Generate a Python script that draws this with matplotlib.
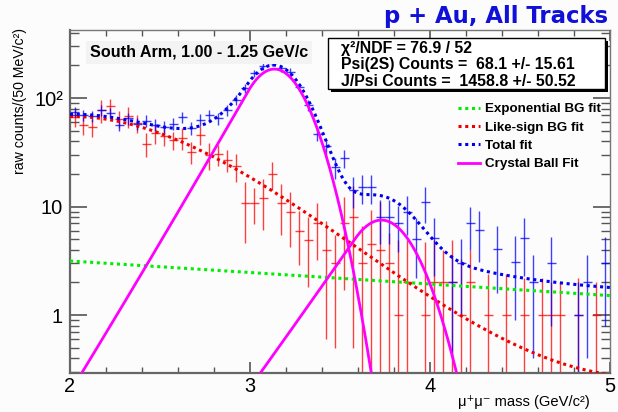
import numpy as np
import matplotlib
matplotlib.use('Agg')
import matplotlib.pyplot as plt
from matplotlib.patches import Rectangle
from matplotlib.lines import Line2D
from matplotlib.ticker import MultipleLocator, LogLocator, FixedLocator, FixedFormatter, NullFormatter

plt.rcParams['font.family'] = ['Liberation Sans', 'DejaVu Sans']

nan = np.nan

# 50 MeV bins between 2 and 5 GeV/c^2
mass_lo, mass_hi, bin_w = 2.0, 5.0, 0.05

# unlike-sign pairs (blue)
unlike_counts = [75, 70, 68, 78, 73, 57, 65, 58, 62, 57,
                 54, 58, 67, 53, 63, 70, 65, 77, 96, 124,
                 169, 197, 211, 188, 175, 127, 86, 47, 36, 23,
                 28, 14.2, 15.1, 15.1, 8.0, 8.0, 7.0, 9.0, 5.0, 11.0,
                 5.1, nan, 2.0, 3.0, 7.0, 6.1, nan, 4.1, nan, 3.1,
                 5.1, 2.0, nan, 3.0, nan, nan, 1.0, 2.0, nan, 3.0]
unlike_err = [8, 8, 8, 9, 8, 7, 8, 7, 8, 7,
              7, 7, 8, 7, 8, 8, 8, 9, 10, 12,
              14, 15, 15, 14, 14, 12, 10, 7, 6, 5,
              5.5, 4.5, 4.5, 4.5, 3.5, 3.5, 3.2, 3.5, 2.8, 4.0,
              2.8, nan, 1.6, 2.0, 3.0, 3.0, nan, 2.5, nan, 2.2,
              2.8, 1.6, nan, 2.2, nan, nan, 1.0, 1.6, nan, 2.2]

# like-sign pairs (red)
like_counts = [67, 56, 54, 77, 84, 64, 68, 59, 38, 48,
               44.5, 41, 43, 32, 46, 30, 30.5, 27, 23.5, 10.8,
               10.8, 12, 20, 10.8, 8.9, 6.0, 4.9, 7.0, 4.0, 3.0,
               7.0, 8.0, 3.0, 4.5, 4.0, 3.0, 1.0, 2.0, nan, 1.0,
               2.0, 2.0, 2.0, 1.0, 2.0, nan, 1.0, nan, 1.0, nan,
               1.0, nan, 1.0, 1.0, 1.0, nan, 1.0, nan, 1.0, nan]
like_err = [12.5, 10.5, 10.5, 18, 14, 11.5, 15, 11.5, 9.3, 10,
            8.7, 7.7, 9.7, 7.3, 9, 8.2, 6.7, 6, 6.7, 6.2,
            3.9, 5.9, 5.8, 5.3, 4.7, 3.1, 3.1, 3.8, 3.4, 2.5,
            5.3, 7.5, 3.6, 4.8, 7.0, 2.7, 3.9, 2.9, nan, 3.7,
            2.9, 2.0, 2.9, 2.3, 2.0, nan, 1.4, nan, 1.4, nan,
            1.2, nan, 1.2, 1.0, 1.0, nan, 1.2, nan, 1.0, nan]

# fit results
expo_norm, expo_slope = 3.15, -0.245          # exp BG, norm at 2 GeV
likesign_poly = [0.1536, -0.7308, 0.0172, 1.83]  # log10(BG) vs (m - 2)
jpsi_cb = (185.0, 3.135, 0.150, 1.0, 100.0)    # norm, mean, sigma, alpha, n
psi2s_cb = (7.5, 3.73, 0.164, 0.9, 100.0)

stats_lines = ['χ²/NDF = 76.9 / 52',
               'Psi(2S) Counts =  68.1 +/- 15.61',
               'J/Psi Counts =  1458.8 +/- 50.52']
legend_labels = ['Exponential BG fit', 'Like-sign BG fit', 'Total fit', 'Crystal Ball Fit']


def crystal_ball(x, norm, mu, sig, alpha, n):
    t = (x - mu) / sig
    core = np.exp(-0.5 * t**2)
    tail = np.exp(-0.5 * alpha**2) * ((n / alpha) / (n / alpha - alpha - np.minimum(t, -alpha)))**n
    return norm * np.where(t > -alpha, core, tail)


centers = np.arange(mass_lo + bin_w / 2, mass_hi, bin_w)
m = np.linspace(mass_lo, mass_hi, 700)
f_expo = expo_norm * np.exp(expo_slope * (m - mass_lo))
f_like = 10**np.polyval(likesign_poly, m - mass_lo)
f_jpsi = crystal_ball(m, *jpsi_cb)
f_psi2s = crystal_ball(m, *psi2s_cb)
f_total = f_expo + f_like + f_jpsi + f_psi2s

fig = plt.figure(figsize=(6.18, 4.12), dpi=100, facecolor='#fcfcfc')
ax = fig.add_axes([70/618, 1 - 372.7/412, 540/618, 342.7/412])
ax.set_facecolor('#fcfcfc')
ax.set_yscale('log')


def draw_points(vals, errs, col):
    vals = np.array(vals)
    errs = np.array(errs)
    ok = ~np.isnan(vals)
    v, e = vals[ok], errs[ok]
    lo = np.minimum(e, v - 1e-3)
    ax.errorbar(centers[ok], v, yerr=[lo, e], xerr=bin_w / 2, fmt='none',
                ecolor=col, elinewidth=1.0, capsize=0, alpha=0.75, zorder=2)


draw_points(like_counts, like_err, '#ff0000')
draw_points(unlike_counts, unlike_err, '#0000ff')

dots = (0, (1, 1.2))
ax.plot(m, f_expo, color='#00ee00', lw=2.2, ls=dots, zorder=3)
ax.plot(m, f_like, color='#ee0000', lw=2.2, ls=dots, zorder=3)
ax.plot(m, f_total, color='#0000ee', lw=2.2, ls=dots, zorder=3)
ax.plot(m, f_jpsi, color='#ff00ff', lw=2.0, zorder=4)
ax.plot(m, f_psi2s, color='#ff00ff', lw=2.0, zorder=4)

ax.set_xlim(mass_lo, mass_hi)
ax.set_ylim(0.294, 424)

ax.xaxis.set_major_locator(MultipleLocator(1))
ax.xaxis.set_minor_locator(MultipleLocator(0.2))
ax.yaxis.set_major_locator(FixedLocator([1, 10, 100]))
ax.yaxis.set_major_formatter(FixedFormatter(['1', '10', '10²']))
ax.yaxis.set_minor_locator(LogLocator(base=10, subs=np.arange(2, 10)))
ax.yaxis.set_minor_formatter(NullFormatter())
ax.tick_params(which='both', direction='in', top=True, right=True, color='#555555',
               labelsize=14.4, labelcolor='black')
ax.tick_params(axis='x', which='major', length=8, width=1.2, pad=3)
ax.tick_params(axis='x', which='minor', length=4, width=1.0)
ax.tick_params(axis='y', which='major', length=12, width=1.2, pad=5)
ax.tick_params(axis='y', which='minor', length=6.5, width=1.0)
for s in ['left', 'bottom']:
    ax.spines[s].set_color('#666666')
    ax.spines[s].set_linewidth(1.6)
for s in ['top', 'right']:
    ax.spines[s].set_color('#777777')
    ax.spines[s].set_linewidth(1.0)

fig.text(20/618, 1 - 28/412, 'raw counts/(50 MeV/c²)', rotation=90, ha='center', va='top', fontsize=10.2)
fig.text(590/618, 1 - 401.7/412, 'μ⁺μ⁻ mass (GeV/c²)', ha='right', va='center', fontsize=10.6)

fig.text(608/618, 1 - 23/412, 'p + Au, All Tracks', ha='right', va='baseline',
         fontsize=16.4, fontweight='bold', color='#1010d8', family='DejaVu Sans')
fig.text(90/618, 1 - 56.7/412, 'South Arm, 1.00 - 1.25 GeV/c', ha='left', va='baseline',
         fontsize=11.6, fontweight='bold',
         bbox=dict(boxstyle='square,pad=0.25', facecolor='#f3f3f3', edgecolor='none'))

# stats box with shadow
bx0, by0, bw, bh = 328.3/618, 1 - 89.3/412, 276.7/618, 51/412
fig.patches.append(Rectangle((bx0 + 3/618, by0 - 3/412), bw, bh, transform=fig.transFigure,
                             facecolor='black', edgecolor='none', zorder=10))
fig.patches.append(Rectangle((bx0, by0), bw, bh, transform=fig.transFigure,
                             facecolor='white', edgecolor='black', lw=1.0, zorder=11))
for line, yb in zip(stats_lines, [53.3, 69.5, 86.5]):
    fig.text(340.7/618, 1 - yb/412, line, ha='left', va='baseline', fontsize=11.4,
             fontweight='bold', zorder=12)

handles = [Line2D([], [], color='#00ee00', lw=2.2, ls=dots),
           Line2D([], [], color='#ee0000', lw=2.2, ls=dots),
           Line2D([], [], color='#0000ee', lw=2.2, ls=dots),
           Line2D([], [], color='#ff00ff', lw=2.0)]
leg = ax.legend(handles, legend_labels, loc='upper left', bbox_to_anchor=(458/618, 1 - 103/412),
                bbox_transform=fig.transFigure, frameon=False, borderpad=0, borderaxespad=0,
                handlelength=1.65, handletextpad=0.4, labelspacing=0.45,
                prop={'weight': 'bold', 'size': 9.6})

fig.savefig('out.png', dpi=100, facecolor=fig.get_facecolor())
